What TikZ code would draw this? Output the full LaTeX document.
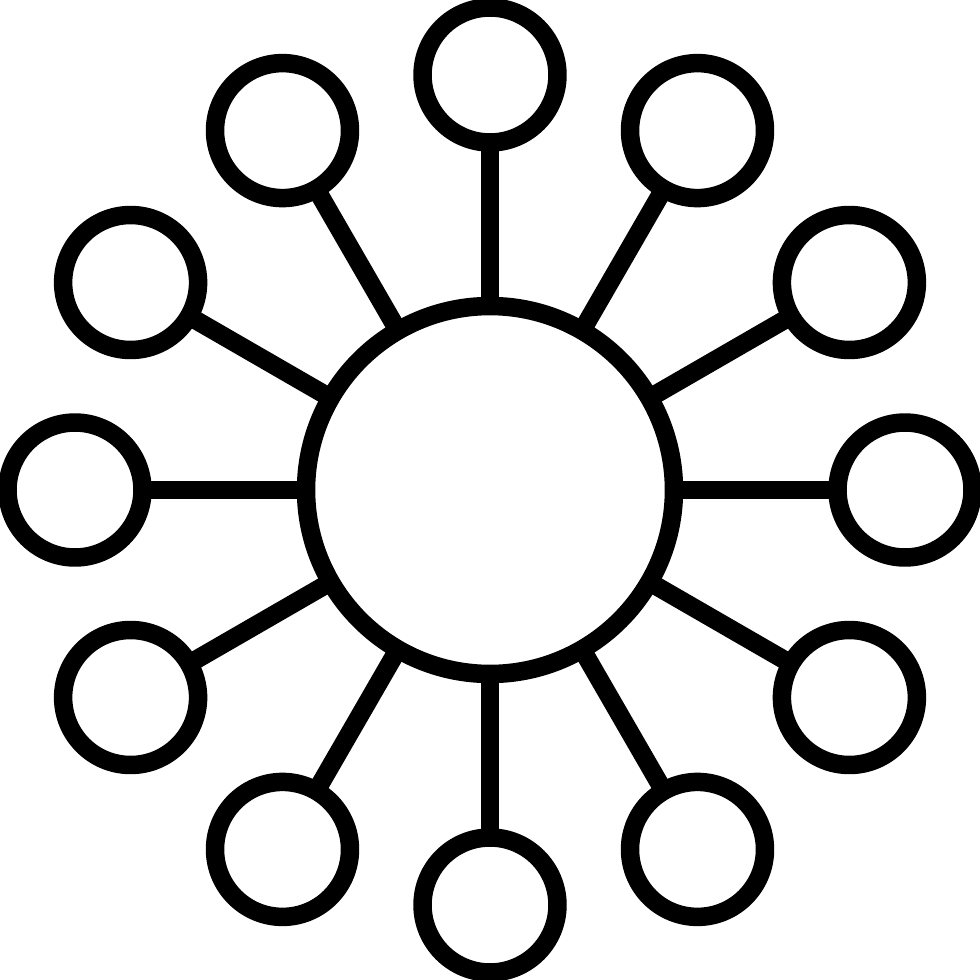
\documentclass[tikz,border=0pt]{standalone}
\begin{document}
\begin{tikzpicture}[x=0.02cm,y=-0.02cm,
  ring/.style={circle,draw=black,line width=0.37cm,inner sep=0pt,outer sep=0pt},
  hub/.style={ring,minimum size=7.36cm},
  leaf/.style={ring,minimum size=2.70cm},
  spoke/.style={draw=black,line width=0.37cm}]
\useasboundingbox (0,0) rectangle (980,980);
\node[hub] (c) at (490,490) {};
\foreach \i in {0,...,11}{
  \pgfmathsetmacro{\ang}{90-30*\i}
  \node[leaf] (l\i) at ({490+415*cos(\ang)},{490-415*sin(\ang)}) {};
  \draw[spoke] (c) -- (l\i);
}
\end{tikzpicture}
\end{document}
